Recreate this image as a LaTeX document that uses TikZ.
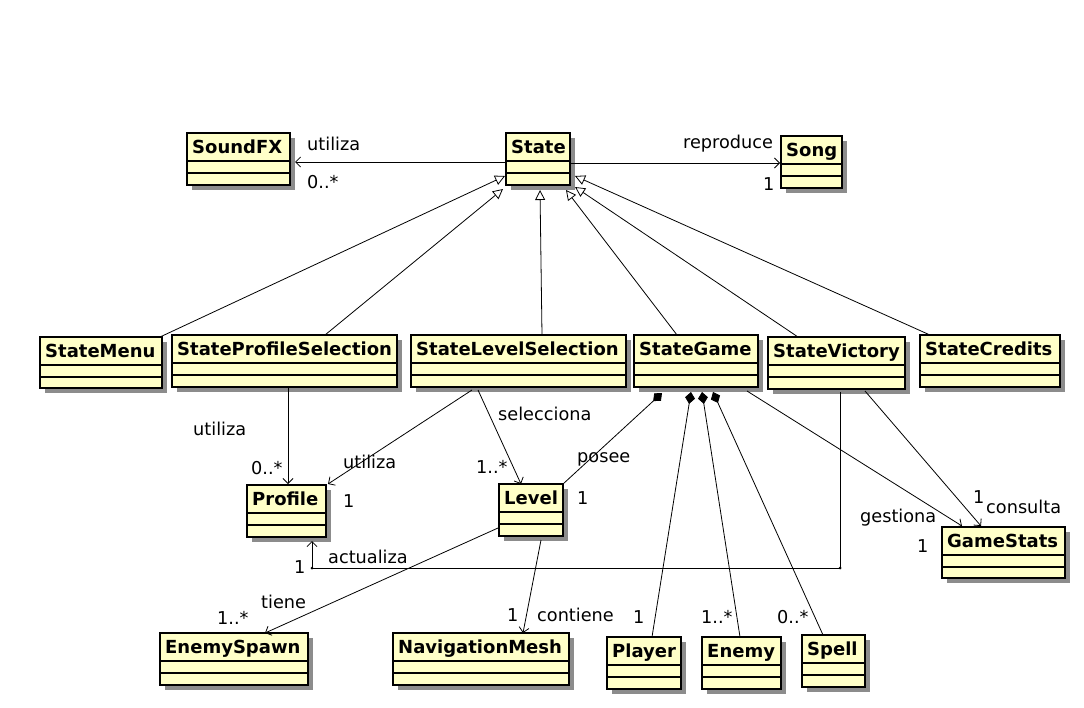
\documentclass[tikz,border=0pt]{standalone}
\usepackage{fontspec}
\setmainfont{DejaVu Sans}
\usetikzlibrary{arrows.meta,calc}
\definecolor{classfill}{RGB}{255,255,200}
\definecolor{shadowgray}{RGB}{140,140,140}
\tikzset{
  classbox/.style={draw=black, line width=1.3pt, fill=classfill, inner sep=0pt, outer sep=0pt, rectangle},
  boxline/.style={line width=1.1pt},
  classname/.style={anchor=base west, inner sep=0pt, font=\fontsize{18}{20}\selectfont\bfseries},
  lbl/.style={anchor=base west, inner sep=0pt},
  assoc/.style={line width=0.8pt, -{Straight Barb[length=5pt,width=10pt]}},
  plainline/.style={line width=0.8pt},
  gen/.style={line width=0.8pt, -{Triangle[open,fill=white,length=10pt,width=10pt]}},
  comp/.style={line width=0.8pt, {Diamond[length=12pt,width=10pt]}-},
}
\newcommand\umlclass[6]{%
  \fill[shadowgray] (#2+5,-#3-5) rectangle (#4+5,-#5-5);
  \node[classbox, minimum width={(#4-#2)*1pt}, minimum height={(#5-#3)*1pt}] (#1) at ({(#2+#4)/2},{-(#3+#5)/2}) {};
  \draw[boxline] ([yshift=-28pt]#1.north west) -- ([yshift=-28pt]#1.north east);
  \draw[boxline] ([yshift=-40pt]#1.north west) -- ([yshift=-40pt]#1.north east);
  \node[classname] (#1-name) at ([xshift=5pt,yshift=-20pt]#1.north west) {#6};
}
\begin{document}
\begin{tikzpicture}[x=1pt,y=1pt,font=\fontsize{17.7}{20}\selectfont]
\fill[white] (0,0) rectangle (1084,-707);
\useasboundingbox (0,0) rectangle (1084,-707);

% classes
\umlclass{soundfx}{187}{133}{290}{185}{SoundFX}
\umlclass{state}{506}{133}{570}{185}{State}
\umlclass{song}{781}{136}{842}{188}{Song}
\umlclass{statemenu}{40}{337}{162}{388}{StateMenu}
\umlclass{stateprofsel}{172}{335}{397}{387}{StateProfileSelection}
\umlclass{statelevsel}{411}{335}{626}{387}{StateLevelSelection}
\umlclass{stategame}{634}{335}{758}{387}{StateGame}
\umlclass{statevictory}{768}{337}{905}{389}{StateVictory}
\umlclass{statecredits}{920}{335}{1060}{387}{StateCredits}
\umlclass{profile}{247}{485}{326}{537}{Profile}
\umlclass{level}{499}{484}{563}{536}{Level}
\umlclass{gamestats}{942}{527}{1065}{578}{GameStats}
\umlclass{enemyspawn}{160}{633}{308}{685}{EnemySpawn}
\umlclass{navmesh}{393}{633}{569}{685}{NavigationMesh}
\umlclass{player}{607}{637}{681}{689}{Player}
\umlclass{enemy}{702}{637}{781}{689}{Enemy}
\umlclass{spell}{802}{635}{865}{687}{Spell}

% State associations
\draw[assoc] ($(state.west)+(0,-3)$) -- ($(soundfx.east)+(5,-3)$);
\draw[assoc] ($(state.east)+(0,-4)$) -- ($(song.west)+(-1,-1)$);

% generalizations
\draw[gen] ($(statemenu.north east)+(-2,0)$) -- ($(state.west)+(-1,-17)$);
\draw[gen] ($(stateprofsel.north west)+(153,0)$) -- ($(state.south west)+(-3,-4)$);
\draw[gen] ($(statelevsel.north west)+(131,0)$) -- ($(state.south)+(2,-5)$);
\draw[gen] ($(stategame.north west)+(43,0)$) -- ($(state.south east)+(-4,-5)$);
\draw[gen] ($(statevictory.north west)+(30,0)$) -- ($(state.south east)+(5,-2)$);
\draw[gen] ($(statecredits.north west)+(10,0)$) -- ($(state.east)+(5,-17)$);

% associations
\draw[assoc] ($(stateprofsel.south west)+(116,0)$) -- ($(profile.north west)+(41,1)$);
\draw[assoc] ($(statelevsel.south west)+(61,-3)$) -- ($(profile.north east)+(2,1)$);
\draw[assoc] ($(statelevsel.south west)+(67,-3)$) -- ($(level.north west)+(22,0)$);
\draw[comp] ($(stategame.south west)+(28,-6)$) -- (level.north east);
\draw[comp] ($(stategame.south west)+(57,-5)$) -- ($(player.north west)+(45,0)$);
\draw[comp] ($(stategame.south west)+(68,-5)$) -- ($(enemy.north west)+(38,0)$);
\draw[comp] ($(stategame.south west)+(79,-5)$) -- ($(spell.north west)+(21,0)$);
\draw[assoc] ($(stategame.south east)+(-11,-4)$) -- ($(gamestats.north west)+(20,1)$);
\draw[assoc] ($(statevictory.south west)+(97,-2)$) -- ($(gamestats.north west)+(39,1)$);
\draw[assoc] ($(statevictory.south west)+(72,-3)$) |- ($(profile.south west)+(65,-31)$) -- ($(profile.south west)+(65,-4)$);
\fill ($(statevictory.south west)+(72,-179)$) circle (1.5);
\fill ($(profile.south west)+(65,-31)$) circle (1.5);
\draw[assoc] ($(level.south west)+(-1,8)$) -- ($(enemyspawn.north west)+(105,0)$);
\draw[assoc] ($(level.south west)+(42,-4)$) -- ($(navmesh.north west)+(130,0)$);

% labels
\node[lbl] (l1) at (307,-150) {utiliza};
\node[lbl] (l2) at (307,-188) {0..*};
\node[lbl] (l3) at (683,-148) {reproduce};
\node[lbl] (l4) at (763,-190) {1};
\node[lbl] (l5) at (193,-435) {utiliza};
\node[lbl] (l6) at (251,-474) {0..*};
\node[lbl] (l7) at (343,-468) {utiliza};
\node[lbl] (l8) at (343,-507) {1};
\node[lbl] (l9) at (498,-420) {selecciona};
\node[lbl] (l10) at (476,-473) {1..*};
\node[lbl] (l11) at (577,-462) {posee};
\node[lbl] (l12) at (577,-504) {1};
\node[lbl] (l13) at (860,-522) {gestiona};
\node[lbl] (l14) at (917,-552) {1};
\node[lbl] (l15) at (973,-503) {1};
\node[lbl] (l16) at (986,-513) {consulta};
\node[lbl] (l17) at (328,-563) {actualiza};
\node[lbl] (l18) at (294,-573) {1};
\node[lbl] (l19) at (261,-608) {tiene};
\node[lbl] (l20) at (217,-624) {1..*};
\node[lbl] (l21) at (507,-621) {1};
\node[lbl] (l22) at (537,-621) {contiene};
\node[lbl] (l23) at (633,-623) {1};
\node[lbl] (l24) at (701,-623) {1..*};
\node[lbl] (l25) at (777,-623) {0..*};
\end{tikzpicture}
\end{document}
